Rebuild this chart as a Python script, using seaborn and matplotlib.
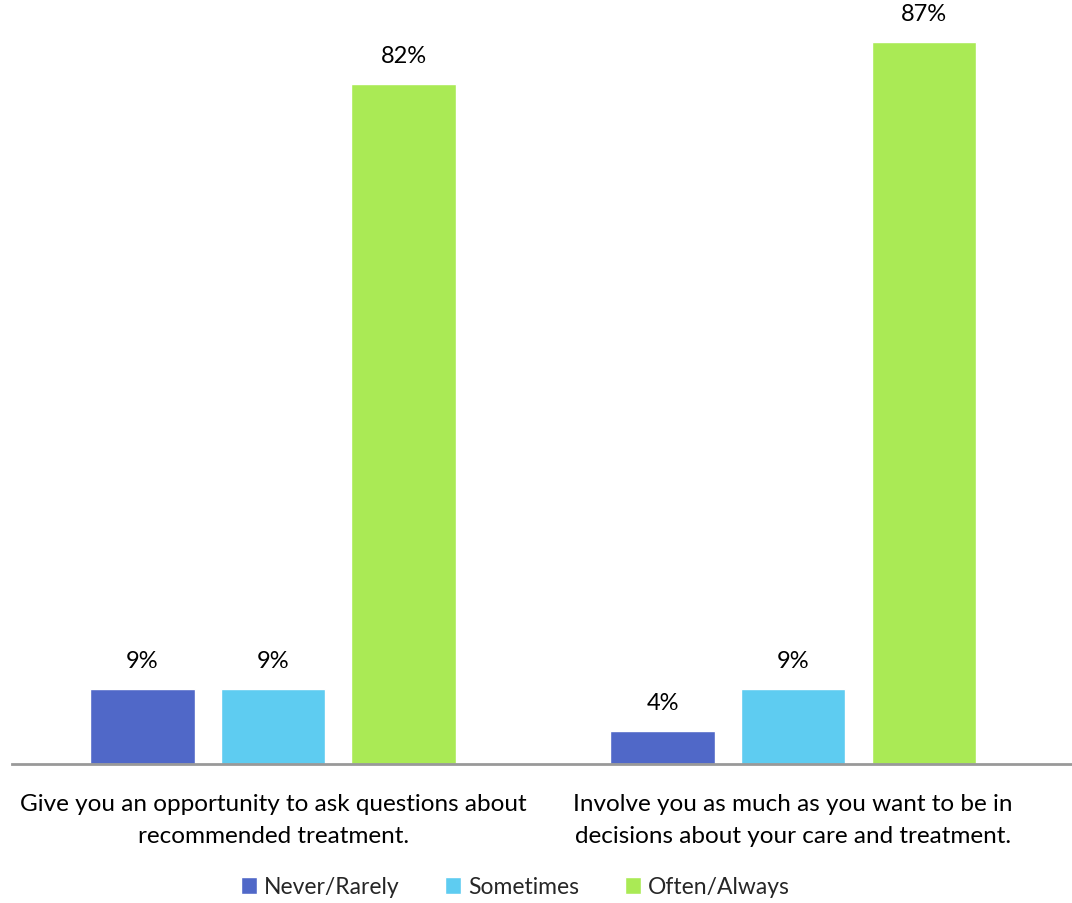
import matplotlib
matplotlib.use("Agg")
import matplotlib.pyplot as plt
import seaborn as sns
import pandas as pd

questions = [
    "Give you an opportunity to ask questions about\nrecommended treatment.",
    "Involve you as much as you want to be in\ndecisions about your care and treatment.",
]
responses = ["Never/Rarely", "Sometimes", "Often/Always"]
never_rarely = [9, 4]
sometimes = [9, 9]
often_always = [82, 87]
colors = ["#5068C8", "#5ECCF1", "#AAEA55"]

rows = []
for q, a, b, c in zip(questions, never_rarely, sometimes, often_always):
    rows += [(q, responses[0], a), (q, responses[1], b), (q, responses[2], c)]
df = pd.DataFrame(rows, columns=["question", "response", "pct"])

sns.set_style("white")
plt.rcParams["font.family"] = ["Lato", "DejaVu Sans"]

fig = plt.figure(figsize=(10.72, 9.04), dpi=100)
ax = fig.add_axes([12 / 1072, (904 - 765) / 904, 1060 / 1072, 765 / 904])

sns.barplot(data=df, x="question", y="pct", hue="response", order=questions,
            hue_order=responses, palette=colors, width=0.753, gap=0.2,
            saturation=1, ax=ax, legend=True)

for cont in ax.containers:
    ax.bar_label(cont, labels=[f"{v:.0f}%" for v in cont.datavalues],
                 padding=13, fontsize=17, color="black")

ax.set_xlim(-0.502, 1.536)
ax.set_ylim(0, 92.2)
ax.set_xlabel("")
ax.set_ylabel("")
ax.set_yticks([])
for s in ["top", "left", "right"]:
    ax.spines[s].set_visible(False)
ax.spines["bottom"].set_color("#999999")
ax.spines["bottom"].set_linewidth(2)
ax.tick_params(axis="x", length=0, pad=21, labelsize=17.5, labelcolor="black")
for t in ax.get_xticklabels():
    t.set_linespacing(1.65)

handles, labels = ax.get_legend_handles_labels()
ax.legend_.remove()
fig.legend(handles, labels, loc="center", bbox_to_anchor=(515 / 1072, 1 - 888 / 904),
           ncol=3, frameon=False, fontsize=16.5, handlelength=0.7, handleheight=0.7,
           handletextpad=0.3, columnspacing=2.0)

fig.savefig("out.png", dpi=100)
